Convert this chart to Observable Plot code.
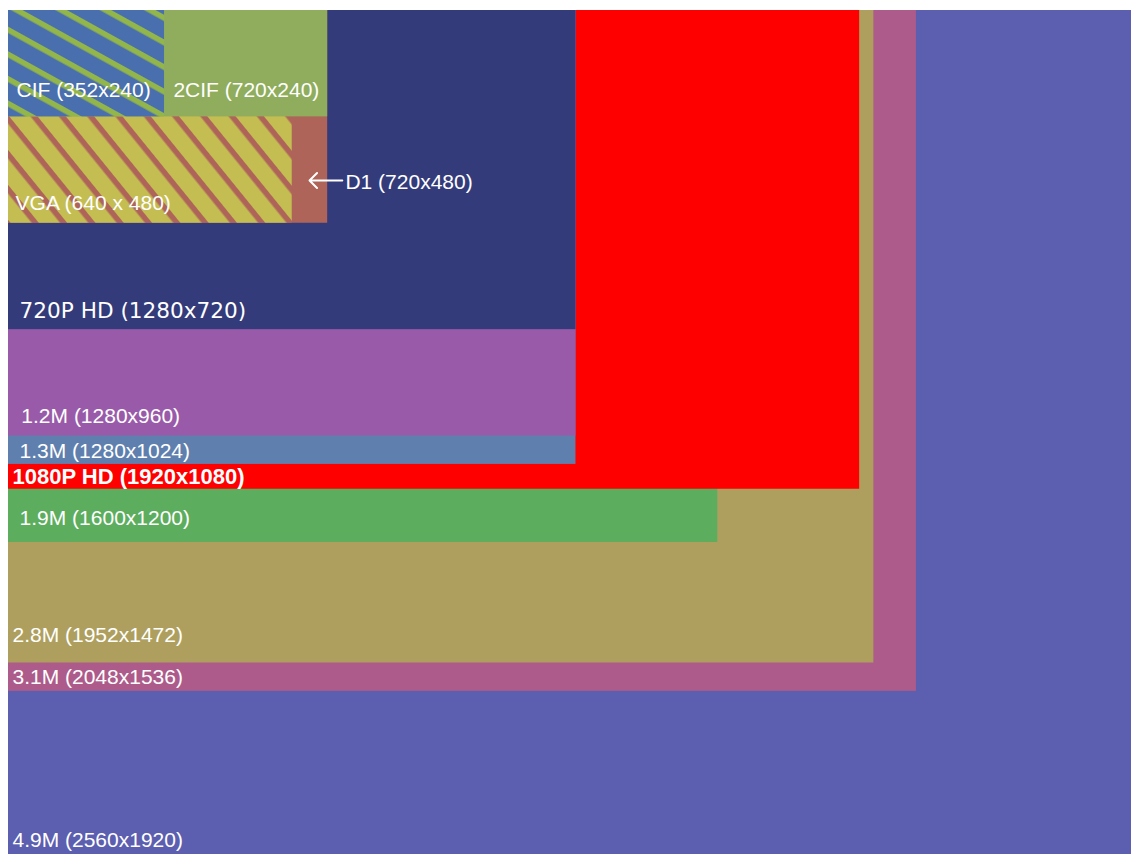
<!DOCTYPE html>
<html>
<head>
<meta charset="utf-8">
<script src="https://cdn.jsdelivr.net/npm/d3@7"></script>
<script src="https://cdn.jsdelivr.net/npm/@observablehq/plot@0.6"></script>
<style>
  html, body { margin: 0; padding: 0; background: #ffffff; }
  #chart svg { display: block; overflow: hidden; }
</style>
</head>
<body>
<div id="chart"></div>
<script>
// Resolutions, in drawing order (largest / back first)
const names   = ["4.9M (2560x1920)", "3.1M (2048x1536)", "2.8M (1952x1472)", "1.9M (1600x1200)",
                 "1080P HD (1920x1080)", "1.3M (1280x1024)", "1.2M (1280x960)", "720P HD (1280x720)",
                 "D1 (720x480)", "VGA (640 x 480)", "2CIF (720x240)", "CIF (352x240)"];
const widths  = [2560, 2048, 1952, 1600, 1920, 1280, 1280, 1280, 720, 640, 720, 352];
const heights = [1920, 1536, 1472, 1200, 1080, 1024, 960, 720, 480, 480, 240, 240];
const colors  = ["#5c5eaf", "#ad5b8a", "#ae9f5e", "#5dad5e", "#ff0000", "#5f80ae", "#995ba9", "#343b7a",
                 "#ae6458", "url(#vgaHatch)", "#8fad5c", "url(#cifHatch)"];
// label anchors (in pixel-resolution units of the chart)
const labelX  = [9, 9, 9, 25, 9, 25, 29, 25, 760, 16, 372, 18];
const labelY  = [1886, 1519, 1424, 1161, 1068, 1009, 931, 694, 403, 451, 195, 195];
// arrow pointing to the D1 strip
const arrowX  = [753, 679];
const arrowY  = [383.5, 383.5];

const rects = names.map((n, i) => ({name: n, w: widths[i], h: heights[i], fill: colors[i]}));
const labels = names.map((n, i) => ({name: n, x: labelX[i], y: labelY[i]}));
const arrows = [{x1: arrowX[0], x2: arrowX[1], y1: arrowY[0], y2: arrowY[1]}];

const isBold = d => d.name.startsWith("1080P");
const isWide = d => d.name.startsWith("720P");

const chart = Plot.plot({
  width: 1131,
  height: 854,
  margin: 0,
  style: {background: "#ffffff", overflow: "hidden"},
  x: {domain: [0, 2560], range: [8, 1142.9], axis: null},
  y: {domain: [0, 1920], range: [10, 861.1], axis: null},
  color: {type: "identity"},
  marks: [
    Plot.rect(rects, {x1: 0, x2: "w", y1: 0, y2: "h", fill: "fill"}),
    Plot.text(labels.filter(d => !isBold(d) && !isWide(d)), {
      x: "x", y: "y", text: "name", textAnchor: "start", lineAnchor: "bottom",
      fill: "white", fontSize: 21, fontFamily: "'Liberation Sans', Arial, sans-serif"
    }),
    Plot.text(labels.filter(isWide), {
      x: "x", y: "y", text: "name", textAnchor: "start", lineAnchor: "bottom",
      fill: "white", fontSize: 21.6, fontFamily: "'DejaVu Sans', Verdana, sans-serif"
    }),
    Plot.text(labels.filter(isBold), {
      x: "x", y: "y", text: "name", textAnchor: "start", lineAnchor: "bottom",
      fill: "white", fontSize: 22, fontWeight: "bold", fontFamily: "'Liberation Sans', Arial, sans-serif"
    }),
    Plot.arrow(arrows, {x1: "x1", y1: "y1", x2: "x2", y2: "y2", stroke: "white", strokeWidth: 2, headAngle: 90})
  ]
});

// hatch patterns for CIF and VGA
const defs = d3.select(chart).insert("defs", ":first-child");
const cif = defs.append("pattern").attr("id", "cifHatch").attr("patternUnits", "userSpaceOnUse")
  .attr("width", 40).attr("height", 21.5).attr("patternTransform", "translate(8,2) rotate(29)");
cif.append("rect").attr("width", 40).attr("height", 21.5).attr("fill", "#4a6fae");
cif.append("rect").attr("y", 0).attr("width", 40).attr("height", 5.5).attr("fill", "#93b64a");
const vga = defs.append("pattern").attr("id", "vgaHatch").attr("patternUnits", "userSpaceOnUse")
  .attr("width", 40).attr("height", 22).attr("patternTransform", "translate(8,10) rotate(51)");
vga.append("rect").attr("width", 40).attr("height", 22).attr("fill", "#c4bd52");
vga.append("rect").attr("y", 0).attr("width", 40).attr("height", 5.5).attr("fill", "#ae6458");

document.getElementById("chart").append(chart);
</script>
</body>
</html>
